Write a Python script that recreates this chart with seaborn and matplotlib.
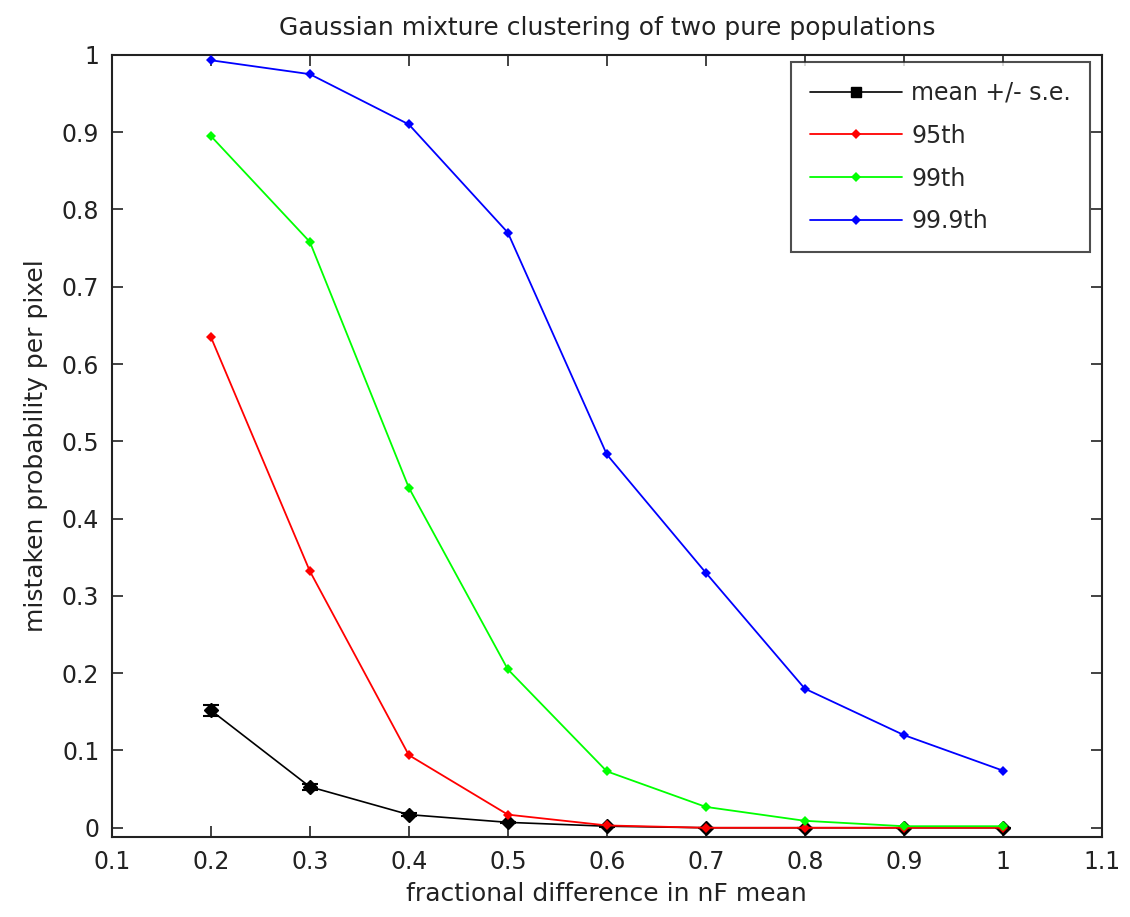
import numpy as np
import pandas as pd
import matplotlib
matplotlib.use("Agg")
import matplotlib.pyplot as plt
from matplotlib.lines import Line2D
import seaborn as sns

# fractional difference in nF mean
frac_diff = [0.2, 0.3, 0.4, 0.5, 0.6, 0.7, 0.8, 0.9, 1.0]

mean_prob = [0.152, 0.053, 0.017, 0.007, 0.002, 0.0, 0.0, 0.0, 0.0]
mean_se = [0.007, 0.004, 0.002, 0.001, 0.0005, 0.0, 0.0, 0.0, 0.0]
p95 = [0.635, 0.332, 0.094, 0.017, 0.003, 0.0, 0.0, 0.0, 0.0]
p99 = [0.895, 0.758, 0.440, 0.205, 0.073, 0.027, 0.009, 0.002, 0.002]
p999 = [0.993, 0.975, 0.910, 0.770, 0.483, 0.330, 0.180, 0.120, 0.074]

series_names = ["95th", "99th", "99.9th"]
series_colors = ["#ff0000", "#00ff00", "#0000ff"]

sns.set_style("white")
plt.rcParams['font.family'] = ['DejaVu Sans']

fig = plt.figure(figsize=(11.3, 9.17), dpi=100)
ax = fig.add_axes([0.099, 0.0872, 0.876, 0.853])

# mean +/- s.e. in black with error bars (drawn underneath)
ax.errorbar(frac_diff, mean_prob, yerr=mean_se, color="black", lw=1.2,
            marker="D", markersize=7, capsize=6, elinewidth=1.5, capthick=1.5,
            zorder=1)

df = pd.DataFrame({
    "x": frac_diff * 3,
    "y": p95 + p99 + p999,
    "series": [s for s in series_names for _ in frac_diff],
})
sns.lineplot(data=df, x="x", y="y", hue="series", palette=series_colors,
             marker="D", markersize=5, markeredgewidth=0, lw=1.3, ax=ax,
             legend=False, zorder=3)

ax.set_xlim(0.1, 1.1)
ax.set_ylim(-0.012, 1.0)
ax.set_xticks(np.arange(0.1, 1.11, 0.1))
ax.set_xticklabels(["0.1", "0.2", "0.3", "0.4", "0.5", "0.6", "0.7", "0.8", "0.9", "1", "1.1"])
ax.set_yticks(np.arange(0, 1.01, 0.1))
ax.set_yticklabels(["0", "0.1", "0.2", "0.3", "0.4", "0.5", "0.6", "0.7", "0.8", "0.9", "1"])
ax.tick_params(direction="in", bottom=True, left=True, top=True, right=True,
               length=8, width=1.2, labelsize=17, colors="#222222", pad=9)
for sp in ax.spines.values():
    sp.set_color("#222222")
    sp.set_linewidth(1.5)

ax.set_xlabel("fractional difference in nF mean", fontsize=18, color="#222222", labelpad=6)
ax.set_ylabel("mistaken probability per pixel", fontsize=18, color="#222222", labelpad=10)
ax.set_title("Gaussian mixture clustering of two pure populations", fontsize=18,
             color="#222222", pad=14)

handles = [Line2D([], [], color="black", lw=1.2, marker="s", markersize=7)]
handles += [Line2D([], [], color=c, lw=1.3, marker="D", markersize=5, markeredgewidth=0)
            for c in series_colors]
labels = ["mean +/- s.e."] + series_names
leg = ax.legend(handles, labels, loc="upper right", bbox_to_anchor=(0.988, 0.991),
                borderaxespad=0, fontsize=17, frameon=True, fancybox=False,
                edgecolor="#222222", borderpad=0.8, handlelength=3.9,
                handletextpad=0.4, labelspacing=0.8)
leg.get_frame().set_linewidth(1.5)

fig.savefig("out.png", dpi=100)
